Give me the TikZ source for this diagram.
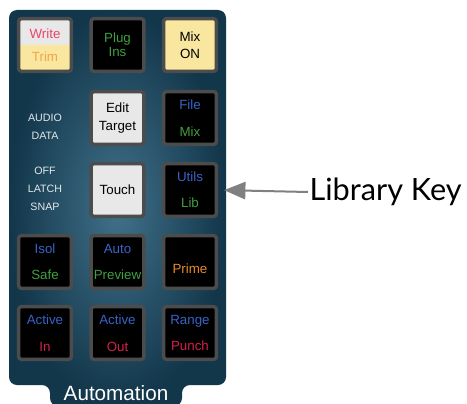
\documentclass[tikz,border=0pt]{standalone}
\usepackage{fontspec}
\setsansfont{Liberation Sans}
\newfontfamily\calloutfont{Lato}
\usetikzlibrary{arrows.meta,positioning}

\definecolor{panelhi}{HTML}{41718A}
\definecolor{panello}{HTML}{12364A}
\definecolor{btnrim}{HTML}{4C4C4C}
\definecolor{keypink}{HTML}{E8456E}
\definecolor{keyorange}{HTML}{F2A44A}
\definecolor{keygreen}{HTML}{3FA03F}
\definecolor{keyblue}{HTML}{3A62C8}
\definecolor{keyred}{HTML}{D4204C}
\definecolor{keyamber}{HTML}{E8892A}
\definecolor{keyyellow}{HTML}{F9E7A0}
\definecolor{keygrey}{HTML}{E8E8E8}
\definecolor{tagwhite}{HTML}{E4E8EA}
\definecolor{arrowgrey}{HTML}{808080}

\begin{document}
\begin{tikzpicture}[x=0.75pt,y=-0.75pt,
    btn/.style={draw=btnrim, line width=2.6pt, fill=black, rounded corners=2pt,
      minimum size=39.5pt, inner sep=0pt, align=center,
      font=\sffamily\fontsize{10}{12}\selectfont},
    tag/.style={text=tagwhite, align=center, font=\sffamily\fontsize{8}{9}\selectfont}]
    \useasboundingbox (0,0) rectangle (467,403);
    % column and row centres of the key grid (px)
    \def\ca{45}  \def\cb{117.5} \def\cc{190}
    \def\ra{45}  \def\rb{118}   \def\rc{190} \def\rd{262} \def\re{333}

    % panel with its name tab
    \shade[inner color=panelhi, outer color=panello, rounded corners=6pt]
      (9,10) -- (226,10) -- (226,385) -- (182,385) -- (182,406)
      -- (50,406) -- (50,385) -- (9,385) -- cycle;
    \node[text=white, font=\sffamily\fontsize{15.5}{18}\selectfont] (automation) at (116,393) {Automation};

    % row 1
    \node[btn, fill=keygrey, path picture={
        \fill[keyyellow] (path picture bounding box.west) rectangle (path picture bounding box.south east);}]
      (write) at (\ca,\ra) {\textcolor{keypink}{Write}\\[5pt]\textcolor{keyorange}{Trim}};
    \node[btn] (plugins) at (\cb,\ra) {\textcolor{keygreen}{Plug}\\[-1.5pt]\textcolor{keygreen}{Ins}};
    \node[btn, fill=keyyellow] (mixon) at (\cc,\ra) {Mix\\[1pt]ON};

    % row 2
    \node[tag] (audio) at (\ca,\rb+9) {AUDIO\\[4.5pt]DATA};
    \node[btn, fill=keygrey] (edit) at (\cb,\rb) {Edit\\[1.5pt]Target};
    \node[btn] (file) at (\cc,\rb) {\textcolor{keyblue}{File}\\[8pt]\textcolor{keygreen}{Mix}};

    % row 3
    \node[tag] (offmode) at (\ca,\rc-1) {OFF\\[4.5pt]LATCH\\[4.5pt]SNAP};
    \node[btn, fill=keygrey] (touch) at (\cb,\rc) {Touch};
    \node[btn] (utils) at (\cc,\rc) {\textcolor{keyblue}{Utils}\\[7.5pt]\textcolor{keygreen}{Lib}};

    % row 4
    \node[btn] (isol) at (\ca,\rd) {\textcolor{keyblue}{Isol}\\[7.5pt]\textcolor{keygreen}{Safe}};
    \node[btn] (auto) at (\cb,\rd) {\textcolor{keyblue}{Auto}\\[7.5pt]\textcolor{keygreen}{Preview}};
    \node[btn] (prime) at (\cc,\rd) {};
    \node[text=keyamber, font=\sffamily\fontsize{10}{12}\selectfont] (primetxt) at (\cc,\rd+7) {Prime};

    % row 5
    \node[btn] (activein) at (\ca,\re) {\textcolor{keyblue}{Active}\\[8pt]\textcolor{keyred}{In}};
    \node[btn] (activeout) at (\cb,\re) {\textcolor{keyblue}{Active}\\[8pt]\textcolor{keyred}{Out}};
    \node[btn] (range) at (\cc,\re) {\textcolor{keyblue}{Range}\\[7.5pt]\textcolor{keyred}{Punch}};

    % callout
    \node[anchor=west, inner sep=1pt, font=\calloutfont\fontsize{23}{26}\selectfont] (libkey) at (308,192) {Library Key};
    \draw[arrowgrey, line width=1.5pt, -{Triangle[length=16pt,width=13pt]}, shorten >=4.5pt]
      (libkey.west) -- (utils.east);
  \end{tikzpicture}
\end{document}
